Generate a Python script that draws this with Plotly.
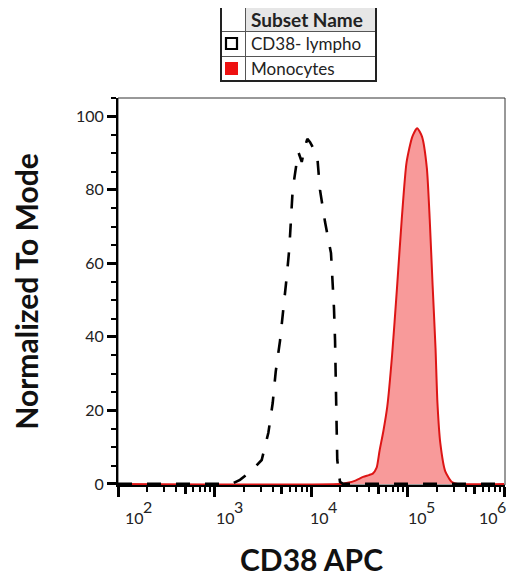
import plotly.graph_objects as go
import numpy as np

# Data (x as log10 of CD38 APC intensity, y as % of mode)
lympho_log = [2.0, 3.18, 3.264, 3.38, 3.489, 3.558, 3.603, 3.634, 3.679, 3.713, 3.748, 3.775,
              3.793, 3.81, 3.852, 3.869, 3.904, 3.935, 3.962, 3.99, 4.03, 4.065, 4.093, 4.145,
              4.207, 4.225, 4.238, 4.249, 4.257, 4.262, 4.266, 4.272, 4.30, 4.33, 6.0]
lympho_pct = [0, 0, 1.1, 3.5, 6.5, 13.9, 22, 30.5, 39, 46.7, 56.3, 64,
              71.7, 80, 87.6, 90.3, 87.6, 91.5, 93.9, 93, 91, 89, 80, 71.3,
              62.8, 55.4, 47.8, 39, 31, 22, 14.7, 6.5, 0.6, 0, 0]

mono_log = [2.0, 4.30, 4.38, 4.46, 4.54, 4.60, 4.64, 4.68, 4.71, 4.75, 4.79, 4.84, 4.89,
            4.94, 4.99, 5.05, 5.10, 5.15, 5.20, 5.23, 5.26, 5.29, 5.31, 5.34, 5.39, 5.46,
            5.52, 6.0]
mono_pct = [0, 0, 0.3, 0.9, 1.9, 2.4, 2.8, 4.4, 9, 14.4, 21, 35, 53,
            72, 87.5, 94.5, 96.8, 94.5, 86, 72, 54, 37, 22, 11, 3.5, 0.5,
            0, 0]

subset_names = ["CD38- lympho", "Monocytes"]

x_major = [1e2, 1e3, 1e4, 1e5, 1e6]
x_major_exp = ["2", "3", "4", "5", "6"]
x_mid = [5e2, 5e3, 5e4, 5e5]
x_minor = [m * d for d in [1e2, 1e3, 1e4, 1e5] for m in [2, 3, 4, 6, 7, 8, 9]]

y_major = [0, 20, 40, 60, 80, 100]

# page has an 8px body margin, so the figure is 8px smaller than the window
OFF = 8
W, H = 515 - OFF, 579 - OFF
L, R, T, B = 118, 505, 98, 485   # plot area in window pixels


def px(x):
    return (x - L) / (R - L)


def py(y):
    return (B - y) / (B - T)


fig = go.Figure()

fig.add_trace(go.Scatter(
    x=np.power(10.0, mono_log), y=mono_pct, name=subset_names[1],
    mode="lines", line=dict(color="#dd1515", width=2, shape="spline", smoothing=0.6),
    fill="tozeroy", fillcolor="rgba(245,120,120,0.75)", showlegend=False))

fig.add_trace(go.Scatter(
    x=np.power(10.0, lympho_log), y=lympho_pct, name=subset_names[0],
    mode="lines", line=dict(color="black", width=2.6, dash="14px,15px"),
    showlegend=False))

# helper trace so the second x axis (medium ticks) gets drawn
fig.add_trace(go.Scatter(x=[1e2], y=[0], xaxis="x2", mode="markers",
                         marker=dict(opacity=0), showlegend=False, hoverinfo="skip"))

tick_font = dict(family="Lato", size=16, color="#222")
title_font = dict(family="Lato", size=30, color="#111", weight="bold")

fig.update_layout(
    width=W, height=H,
    margin=dict(l=L - OFF, r=W - (R - OFF), t=T - OFF, b=H - (B - OFF)),
    paper_bgcolor="white", plot_bgcolor="white",
    xaxis=dict(
        type="log", range=[2, 6.01], automargin=False,
        tickmode="array", tickvals=x_major, showticklabels=False,
        ticks="outside", ticklen=10, tickwidth=3, tickcolor="black",
        minor=dict(tickmode="array", tickvals=x_minor, ticks="outside",
                   ticklen=5, tickwidth=1.5, tickcolor="black"),
        showline=True, linecolor="black", linewidth=2,
        showgrid=False, zeroline=False,
        title=dict(text="CD38 APC", font=title_font, standoff=54),
    ),
    xaxis2=dict(
        type="log", range=[2, 6.01], overlaying="x", anchor="y", side="bottom",
        tickmode="array", tickvals=x_mid, showticklabels=False, automargin=False,
        ticks="outside", ticklen=8, tickwidth=2.5, tickcolor="black",
        showline=False, showgrid=False, zeroline=False,
    ),
    yaxis=dict(
        range=[-0.3, 105], automargin=False,
        tickmode="array", tickvals=y_major,
        ticks="outside", ticklen=9, tickwidth=2.5, tickcolor="black",
        minor=dict(dtick=5, ticks="outside", ticklen=5, tickwidth=1.5, tickcolor="black"),
        showline=True, linecolor="black", linewidth=2,
        showgrid=False, zeroline=False,
        tickfont=tick_font,
        title=dict(text="Normalized To Mode", font=title_font, standoff=53),
    ),
)

# decade labels: "10" starts near its tick, exponent raised to the right
label_shift = [5, -1, -3, -2, -27]
for xv, ex, sh in zip(x_major, x_major_exp, label_shift):
    fig.add_annotation(x=np.log10(xv), xref="x", y=py(517.5), yref="paper",
                       text="10", showarrow=False, xanchor="left", yanchor="middle",
                       xshift=sh, font=tick_font)
    fig.add_annotation(x=np.log10(xv), xref="x", y=py(506), yref="paper",
                       text=ex, showarrow=False, xanchor="left", yanchor="middle",
                       xshift=sh + 18, font=tick_font)

# thin frame on top and right
fig.add_shape(type="rect", xref="paper", yref="paper", x0=0, x1=1, y0=0, y1=1,
              line=dict(color="#333", width=1), layer="below")

# table-style legend above the plot
lg_l, lg_div, lg_r = 221, 245.5, 376
rows = [6, 31.5, 56.5, 81]
fig.add_shape(type="rect", xref="paper", yref="paper",
              x0=px(lg_div), x1=px(lg_r), y0=py(rows[1]), y1=py(rows[0]),
              fillcolor="#e6e6e6", line=dict(width=0))
for yy in rows[1:3]:
    fig.add_shape(type="line", xref="paper", yref="paper",
                  x0=px(lg_l), x1=px(lg_r), y0=py(yy), y1=py(yy),
                  line=dict(color="#555", width=1))
fig.add_shape(type="line", xref="paper", yref="paper",
              x0=px(lg_div), x1=px(lg_div), y0=py(rows[3]), y1=py(rows[0]),
              line=dict(color="#555", width=1))
fig.add_shape(type="rect", xref="paper", yref="paper",
              x0=px(lg_l), x1=px(lg_r), y0=py(rows[3]), y1=py(rows[0]),
              line=dict(color="#222", width=2))
fig.add_shape(type="rect", xref="paper", yref="paper",
              x0=px(226), x1=px(237), y0=py(49), y1=py(38),
              fillcolor="white", line=dict(color="black", width=2.2))
fig.add_shape(type="rect", xref="paper", yref="paper",
              x0=px(225), x1=px(238), y0=py(75), y1=py(62),
              fillcolor="#ee1111", line=dict(width=0))

fig.add_annotation(x=px(249), y=py(19), xref="paper", yref="paper", text="<b>Subset Name</b>",
                   showarrow=False, xanchor="left", yanchor="middle",
                   font=dict(family="Lato", size=19, color="#222"))
for name, yc in zip(subset_names, [44, 69]):
    fig.add_annotation(x=px(249), y=py(yc), xref="paper", yref="paper", text=name,
                       showarrow=False, xanchor="left", yanchor="middle",
                       font=dict(family="Lato", size=17, color="#222"))

fig.write_html("out.html")
